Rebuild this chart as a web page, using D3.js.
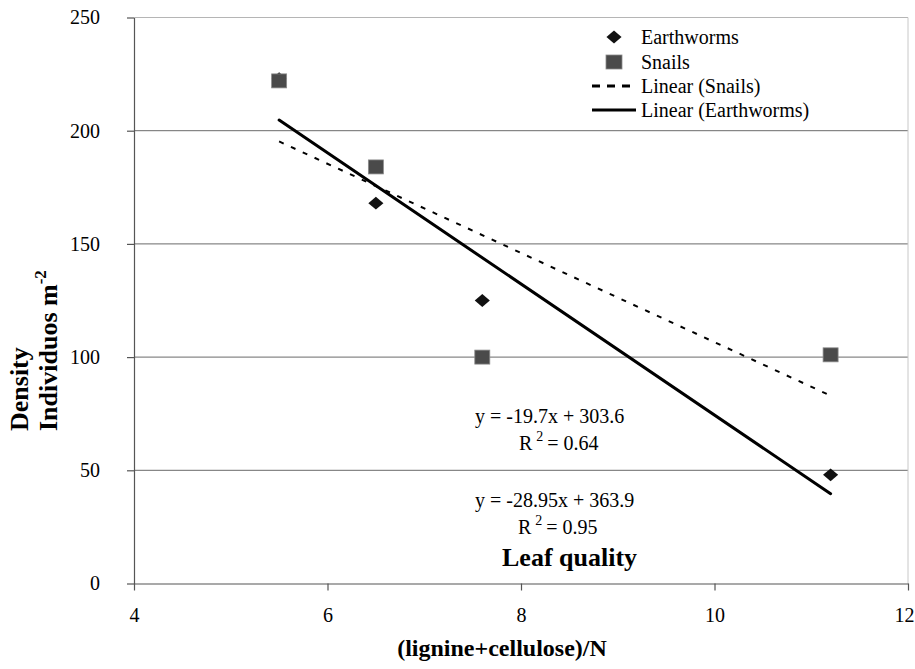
<!DOCTYPE html>
<meta charset="utf-8">
<script src="https://d3js.org/d3.v7.min.js"></script>
<style>
  body { margin: 0; background: #fff; }
  text { font-family: "Liberation Serif", "Times New Roman", serif; fill: #000; }
</style>
<div id="chart"></div>
<script>
    // data
    const quality = [5.5, 6.5, 7.6, 11.2];          // (lignine+cellulose)/N
    const earthworms = [223, 168, 125, 48];
    const snails = [222, 184, 100, 101];
    const wormFit = [-28.95, 363.9];                  // slope, intercept
    const snailFit = [-19.7, 303.6];
    const xTicks = [4, 6, 8, 10, 12];
    const yTicks = [0, 50, 100, 150, 200, 250];

    const W = 915, H = 669;
    const svg = d3.select("#chart").append("svg")
        .attr("width", W).attr("height", H);

    const x = d3.scaleLinear().domain([4, 12]).range([134, 908]);
    const y = d3.scaleLinear().domain([0, 250]).range([583.5, 17.5]);

    // gridlines
    svg.append("g").selectAll("line")
        .data(yTicks.filter(d => d > 0))
        .join("line")
        .attr("x1", x(4)).attr("x2", x(12))
        .attr("y1", d => y(d)).attr("y2", d => y(d))
        .attr("stroke", d => d === 250 ? "#b5b5b5" : "#6a6a6a")
        .attr("stroke-width", 1);

    // right border
    svg.append("line")
        .attr("x1", x(12)).attr("x2", x(12))
        .attr("y1", y(250)).attr("y2", y(0))
        .attr("stroke", "#c8c8c8");

    // axes
    const xAxis = svg.append("g")
        .attr("transform", `translate(0,${y(0)})`)
        .call(d3.axisBottom(x).tickValues(xTicks).tickSize(7).tickSizeOuter(0).tickPadding(17));
    const yAxis = svg.append("g")
        .attr("transform", `translate(${x(4)},0)`)
        .call(d3.axisLeft(y).tickValues(yTicks).tickSize(7).tickSizeOuter(0).tickPadding(27));
    [xAxis, yAxis].forEach(a => {
        a.selectAll("path, line").attr("stroke", "#555").attr("stroke-width", 1.2);
        a.selectAll("text").style("font-size", "20px")
            .style("font-family", '"Liberation Serif", "Times New Roman", serif').attr("fill", "#000");
    });
    // last label sits a bit left so it stays inside the picture
    xAxis.selectAll(".tick text").filter(d => d === 12).attr("dx", -4);

    // markers
    const diamond = d3.symbol().type(d3.symbolSquare).size(82);
    const diamondAt = (cx, cy) => `translate(${cx},${cy}) scale(1.18,1) rotate(45)`;
    svg.append("g").selectAll("path")
        .data(quality)
        .join("path")
        .attr("d", diamond)
        .attr("transform", (d, i) => diamondAt(x(d), y(earthworms[i])))
        .attr("fill", "#111");

    svg.append("g").selectAll("rect")
        .data(quality)
        .join("rect")
        .attr("x", d => x(d) - 7.5)
        .attr("y", (d, i) => y(snails[i]) - 7)
        .attr("width", 15).attr("height", 14)
        .attr("fill", "#4a4a4a")
        .attr("stroke", "#8a8a8a").attr("stroke-width", 0.8);

    // trend lines
    const xr = d3.extent(quality);
    const fitLine = d3.line().x(d => x(d[0])).y(d => y(d[1]));
    svg.append("path")
        .datum(xr.map(v => [v, snailFit[0] * v + snailFit[1]]))
        .attr("d", fitLine)
        .attr("fill", "none").attr("stroke", "#000")
        .attr("stroke-width", 2).attr("stroke-dasharray", "5,8");
    svg.append("path")
        .datum(xr.map(v => [v, wormFit[0] * v + wormFit[1]]))
        .attr("d", fitLine)
        .attr("fill", "none").attr("stroke", "#000")
        .attr("stroke-width", 3).attr("stroke-linecap", "round");

    // equations
    function equation(fit, r2, x0, yb, rx) {
        svg.append("text").attr("x", x0).attr("y", yb).style("font-size", "20px")
            .text(`y = ${fit[0]}x + ${fit[1]}`);
        const t = svg.append("text").attr("x", rx).attr("y", yb + 27).style("font-size", "20px");
        t.append("tspan").text("R");
        t.append("tspan").attr("dx", 4).attr("dy", -9).style("font-size", "14px").text("2");
        t.append("tspan").attr("dx", 4).attr("dy", 9).text(`= ${r2}`);
    }
    equation(snailFit, "0.64", 475, 423, 519);
    equation(wormFit, "0.95", 475, 507, 518);

    svg.append("text").attr("x", 502).attr("y", 566)
        .style("font-size", "26px").style("font-weight", "bold")
        .text("Leaf quality");

    // legend
    const lg = svg.append("g");
    const legendRows = [
        {label: "Earthworms", y: 37},
        {label: "Snails", y: 62},
        {label: "Linear (Snails)", y: 86},
        {label: "Linear (Earthworms)", y: 110}
    ];
    lg.selectAll("text").data(legendRows).join("text")
        .attr("x", 641).attr("y", d => d.y + 7)
        .style("font-size", "20px").text(d => d.label);
    lg.append("path").attr("d", diamond)
        .attr("transform", diamondAt(614, legendRows[0].y)).attr("fill", "#111");
    lg.append("rect").attr("x", 606).attr("y", legendRows[1].y - 7)
        .attr("width", 16).attr("height", 14)
        .attr("fill", "#4a4a4a").attr("stroke", "#8a8a8a").attr("stroke-width", 0.8);
    lg.append("line").attr("x1", 592).attr("x2", 634)
        .attr("y1", legendRows[2].y).attr("y2", legendRows[2].y)
        .attr("stroke", "#000").attr("stroke-width", 3).attr("stroke-dasharray", "8,7");
    lg.append("line").attr("x1", 592).attr("x2", 636)
        .attr("y1", legendRows[3].y).attr("y2", legendRows[3].y)
        .attr("stroke", "#000").attr("stroke-width", 3);

    // axis titles
    svg.append("text").attr("x", 502).attr("y", 656)
        .attr("text-anchor", "middle")
        .style("font-size", "24px").style("font-weight", "bold")
        .text("(lignine+cellulose)/N");

    const yt = svg.append("g").attr("transform", "translate(28,431) rotate(-90)");
    yt.append("text").attr("x", 0).attr("y", 0)
        .style("font-size", "26px").style("font-weight", "bold").text("Density");
    const yt2 = yt.append("text").attr("x", 0).attr("y", 29)
        .style("font-size", "26px").style("font-weight", "bold");
    yt2.append("tspan").text("Individuos m");
    yt2.append("tspan").attr("dy", -11).style("font-size", "17px").text("-2");
</script>
